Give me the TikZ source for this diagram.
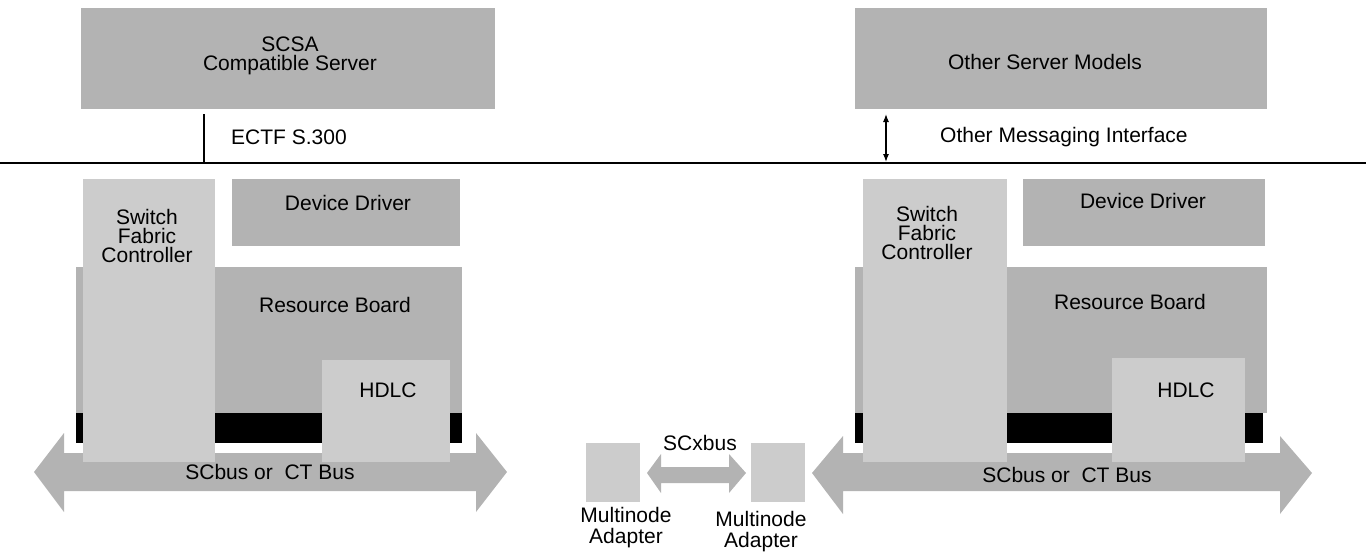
\documentclass[tikz,border=0pt]{standalone}
\usepackage{fontspec}
\setmainfont{Liberation Sans}
\usetikzlibrary{arrows.meta}
\definecolor{darkbox}{RGB}{179,179,179}
\definecolor{lightbox}{RGB}{204,204,204}
\begin{document}
\begin{tikzpicture}[x=1pt,y=-1pt,
  box/.style={inner sep=0pt, outer sep=0pt, anchor=north west, draw=none},
  dbox/.style={box, fill=darkbox},
  lbox/.style={box, fill=lightbox},
  blk/.style={box, fill=black},
  txt/.style={inner sep=0pt, font=\fontsize{21}{19}\selectfont, align=center},
  busarrow/.style={fill=darkbox, draw=none}]
\useasboundingbox (0,0) rectangle (1366,552);

% ---------- top ----------
\node[dbox, minimum width=414pt, minimum height=101pt] (scsa) at (81,8) {};
\node[txt] (scsaT) at (290,56) {SCSA\\Compatible Server};
\node[dbox, minimum width=412pt, minimum height=101pt] (osm) at (855,8) {};
\node[txt] (osmT) at (1045,62) {Other Server Models};

\coordinate (hl) at (0,163);
\coordinate (hr) at (1366,163);
\draw[line width=2pt] (hl) -- (hr);

\coordinate (e1) at (204,162);
\draw[line width=1.2pt, shorten <=5pt] (e1 |- scsa.south) -- (e1);
\node[txt, anchor=west] (ectf) at (231,137) {ECTF S.300};

\coordinate (e2) at (886,162);
\draw[line width=1.2pt, {Latex[length=8pt,width=6pt]}-{Latex[length=8pt,width=6pt]}, shorten <=5pt] (e2 |- osm.south) -- (e2);
\node[txt, anchor=west] (omi) at (940,137) {Other Messaging Interface};

% ---------- left node ----------
\node[dbox, minimum width=386pt, minimum height=146pt] (rb1) at (76,267) {};
\node[blk, minimum width=386pt, minimum height=30pt] (bar1) at (76,413) {};
\path[busarrow] (34,472) -- (64,433) -- (64,453) -- (476,453) -- (476,433) -- (507,472)
  -- (476,512) -- (476,491) -- (64,491) -- (64,512) -- cycle;
\node[lbox, minimum width=132pt, minimum height=283pt] (sfc1) at (83,179) {};
\node[dbox, minimum width=228pt, minimum height=67pt] (dd1) at (232,179) {};
\node[lbox, minimum width=128pt, minimum height=102pt] (hdlc1) at (322,360) {};
\node[txt] (sfc1T) at (147,236) {Switch\\Fabric\\Controller};
\node[txt] (dd1T) at (348,203) {Device Driver};
\node[txt] (rb1T) at (335,305) {Resource Board};
\node[txt] (hdlc1T) at (388,390) {HDLC};
\node[txt] (bus1T) at (270,472) {SCbus or\ \ CT Bus};

% ---------- right node ----------
\node[dbox, minimum width=412pt, minimum height=146pt] (rb2) at (855,267) {};
\node[blk, minimum width=408pt, minimum height=30pt] (bar2) at (855,413) {};
\path[busarrow] (812,473) -- (843,436) -- (843,453) -- (1280,453) -- (1280,436) -- (1312,473)
  -- (1280,514) -- (1280,491) -- (843,491) -- (843,514) -- cycle;
\node[lbox, minimum width=144pt, minimum height=283pt] (sfc2) at (863,179) {};
\node[dbox, minimum width=242pt, minimum height=67pt] (dd2) at (1023,179) {};
\node[lbox, minimum width=133pt, minimum height=104pt] (hdlc2) at (1112,358) {};
\node[txt] (sfc2T) at (927,233) {Switch\\Fabric\\Controller};
\node[txt] (dd2T) at (1143,201) {Device Driver};
\node[txt] (rb2T) at (1130,302) {Resource Board};
\node[txt] (hdlc2T) at (1186,390) {HDLC};
\node[txt] (bus2T) at (1067,475) {SCbus or\ \ CT Bus};

% ---------- multinode adapters ----------
\node[lbox, minimum width=54pt, minimum height=59pt] (ma1) at (586,443) {};
\node[lbox, minimum width=54pt, minimum height=59pt] (ma2) at (751,443) {};
\node[txt, font=\fontsize{21}{21}\selectfont] (ma1T) at (626,528) {Multinode\\Adapter};
\node[txt, font=\fontsize{21}{21}\selectfont] (ma2T) at (761,532) {Multinode\\Adapter};
\path[busarrow] ([xshift=7pt]ma1.east |- 0,473) -- (661,454) -- (661,467) -- (729,467) -- (729,454)
  -- ([xshift=-5pt]ma2.west |- 0,473) -- (729,493) -- (729,483) -- (661,483) -- (661,493) -- cycle;
\node[txt] (scx) at (700,443) {SCxbus};
\end{tikzpicture}
\end{document}
